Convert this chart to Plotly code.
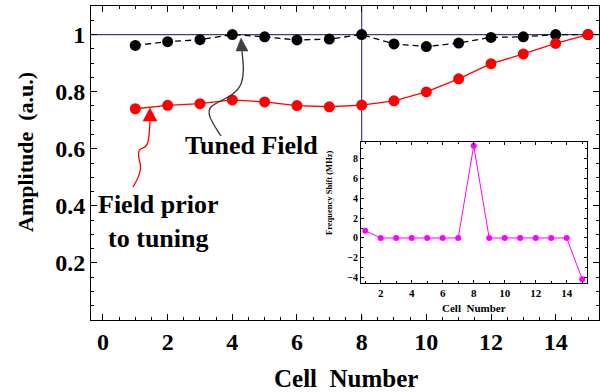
import plotly.graph_objects as go

# ---------------- data ----------------
cells = list(range(1, 16))
tuned_field = [0.962, 0.975, 0.982, 1.0, 0.992, 0.981, 0.984, 1.0,
               0.967, 0.958, 0.970, 0.990, 0.992, 1.0, 1.0]
prior_field = [0.740, 0.752, 0.758, 0.771, 0.764, 0.751, 0.747, 0.753,
               0.768, 0.799, 0.845, 0.898, 0.932, 0.969, 1.0]
freq_shift = [0.74, 0, 0, 0, 0, 0, 0, 9.3, 0, 0, 0, 0, 0, 0, -4.16]

main_xticks = [0, 2, 4, 6, 8, 10, 12, 14]
main_yticks = [0.2, 0.4, 0.6, 0.8, 1.0]
main_yticktext = ["0.2", "0.4", "0.6", "0.8", "1"]
inset_xticks = [2, 4, 6, 8, 10, 12, 14]
inset_yticks = [-4, -2, 0, 2, 4, 6, 8]
inset_yticktext = ["\u22124", "\u22122", "0", "2", "4", "6", "8"]

# ---------------- layout geometry ----------------
W, H = 600, 392
L, R, T, B = 91, 1, 6, 72
PW, PH = W - L - R, H - T - B

def px(x):
    return (x - L) / PW

def py(y):
    return (H - B - y) / PH

FONT = "Liberation Serif"
BLUE = "#3c3c96"

fig = go.Figure()

fig.add_trace(go.Scatter(
    x=cells, y=tuned_field, mode="lines+markers",
    line=dict(color="black", width=1.3, dash="6px,4px"),
    marker=dict(color="black", size=11),
    xaxis="x", yaxis="y", showlegend=False))
fig.add_trace(go.Scatter(
    x=cells, y=prior_field, mode="lines+markers",
    line=dict(color="#ff0000", width=1.3),
    marker=dict(color="#ff0000", size=11),
    xaxis="x", yaxis="y", showlegend=False))
fig.add_trace(go.Scatter(
    x=cells, y=freq_shift, mode="lines+markers",
    line=dict(color="#ff00ff", width=1),
    marker=dict(color="#ff00ff", size=6),
    xaxis="x2", yaxis="y2", showlegend=False))

tickfont = dict(family=FONT, size=24, color="black", weight="bold")
fig.update_layout(
    template="none",
    width=W, height=H,
    margin=dict(l=L, r=R, t=T, b=B, autoexpand=False),
    paper_bgcolor="white", plot_bgcolor="white",
    xaxis=dict(
        domain=[0, 1], range=[-0.37, 15.34], tickvals=main_xticks,
        ticks="inside", ticklen=6, tickwidth=1, tickcolor="black",
        minor=dict(dtick=0.5, tick0=0, ticklen=3, ticks="inside", tickcolor="black"),
        showline=True, linecolor="black", linewidth=1, mirror="ticks",
        showgrid=False, zeroline=False, tickfont=tickfont, anchor="y",
        automargin=False),
    yaxis=dict(
        domain=[0, 1], range=[0, 1.10], tickvals=main_yticks, ticktext=main_yticktext,
        ticks="inside", ticklen=6, tickwidth=1, tickcolor="black",
        minor=dict(dtick=0.05, tick0=0, ticklen=3, ticks="inside", tickcolor="black"),
        showline=True, linecolor="black", linewidth=1, mirror="ticks",
        showgrid=False, zeroline=False, tickfont=tickfont, anchor="x",
        automargin=False),
    xaxis2=dict(
        domain=[px(361), px(587)], range=[0.73, 15.31], tickvals=inset_xticks,
        ticks="inside", ticklen=3, tickcolor="black",
        minor=dict(dtick=1, tick0=0, ticklen=2, ticks="inside", tickcolor="black"),
        showline=True, linecolor="black", linewidth=1, mirror="ticks",
        showgrid=False, zeroline=False, anchor="y2", automargin=False,
        tickfont=dict(family=FONT, size=11, color="black", weight="bold")),
    yaxis2=dict(
        domain=[py(283), py(142)], range=[-4.54, 9.68], tickvals=inset_yticks,
        ticktext=inset_yticktext,
        ticks="inside", ticklen=3, tickcolor="black",
        minor=dict(dtick=1, tick0=0, ticklen=2, ticks="inside", tickcolor="black"),
        showline=True, linecolor="black", linewidth=1, mirror="ticks",
        showgrid=False, zeroline=False, anchor="x2", automargin=False,
        tickfont=dict(family=FONT, size=10, color="black", weight="bold")),
)

# reference lines (axes through (8,1) in main, (8,0) in inset)
shapes = [
    dict(type="line", xref="paper", yref="y", x0=0, x1=1, y0=1, y1=1,
         line=dict(color=BLUE, width=1.2), layer="below"),
    dict(type="line", xref="x", yref="paper", x0=8, x1=8, y0=py(142), y1=1,
         line=dict(color=BLUE, width=1.2), layer="below"),
    dict(type="line", xref="x", yref="paper", x0=8, x1=8, y0=0, y1=py(315),
         line=dict(color=BLUE, width=1.2), layer="below"),
    dict(type="line", xref="x2 domain", yref="y2", x0=0, x1=1, y0=0, y1=0,
         line=dict(color=BLUE, width=1.2), layer="below"),
    dict(type="line", xref="x2", yref="y2 domain", x0=8, x1=8, y0=0, y1=1,
         line=dict(color=BLUE, width=1.2), layer="below"),
]

def path(cmds):
    out = []
    for cmd, pts in cmds:
        out.append(cmd + " " + " ".join(f"{px(a):.4f},{py(b):.4f}" for a, b in pts))
    return " ".join(out)

# "Tuned Field" curved arrow
shapes.append(dict(type="path", xref="paper", yref="paper",
    path=path([("M", [(221, 136)]),
               ("C", [(214, 125), (204, 112), (212, 106)]),
               ("C", [(220, 100), (236, 96), (241, 84)]),
               ("C", [(245, 74), (243, 62), (242, 51)])]),
    line=dict(color="#333333", width=1.3)))
shapes.append(dict(type="path", xref="paper", yref="paper",
    path=path([("M", [(236, 51)]), ("L", [(248, 51)]), ("L", [(241, 38)])]) + " Z",
    fillcolor="#404040", line=dict(color="#404040", width=0.5)))

# "Field prior to tuning" curved arrow
shapes.append(dict(type="path", xref="paper", yref="paper",
    path=path([("M", [(133, 187)]),
               ("C", [(137, 180), (142, 172), (140, 163)]),
               ("C", [(138, 155), (137, 150), (143, 148)]),
               ("C", [(149, 146), (149, 138), (150, 121)])]),
    line=dict(color="#ff0000", width=1.3)))
shapes.append(dict(type="path", xref="paper", yref="paper",
    path=path([("M", [(143, 121)]), ("L", [(157, 121)]), ("L", [(150, 108)])]) + " Z",
    fillcolor="#ff0000", line=dict(color="#ff0000", width=0.5)))

fig.update_layout(shapes=shapes)

textfont = dict(family=FONT, size=26, color="black", weight="bold")
annotations = [
    dict(text="Tuned Field", x=px(251), y=py(145), xref="paper", yref="paper",
         showarrow=False, font=textfont, xanchor="center", yanchor="middle"),
    dict(text="Field prior<br>to tuning", x=px(158), y=py(221), xref="paper", yref="paper",
         showarrow=False, font=textfont, xanchor="center", yanchor="middle", align="center"),
    dict(text="Cell  Number", x=px(346), y=py(378), xref="paper", yref="paper",
         showarrow=False, font=dict(family=FONT, size=25, color="black", weight="bold"),
         xanchor="center", yanchor="middle"),
    dict(text="Amplitude  (a.u.)", x=px(25), y=py(152), xref="paper", yref="paper",
         showarrow=False, textangle=-90,
         font=dict(family=FONT, size=22, color="black", weight="bold"),
         xanchor="center", yanchor="middle"),
    dict(text="Cell  Number", x=px(474), y=py(308), xref="paper", yref="paper",
         showarrow=False, font=dict(family=FONT, size=11, color="black", weight="bold"),
         xanchor="center", yanchor="middle"),
    dict(text="Frequency Shift (MHz)", x=px(329), y=py(193), xref="paper", yref="paper",
         showarrow=False, textangle=-90,
         font=dict(family=FONT, size=8.5, color="black", weight="bold"),
         xanchor="center", yanchor="middle"),
]
fig.update_layout(annotations=annotations)

fig.write_html("out.html",
               config={"displayModeBar": False, "staticPlot": True},
               post_script="document.body.style.margin='0';document.body.style.overflow='hidden';")
